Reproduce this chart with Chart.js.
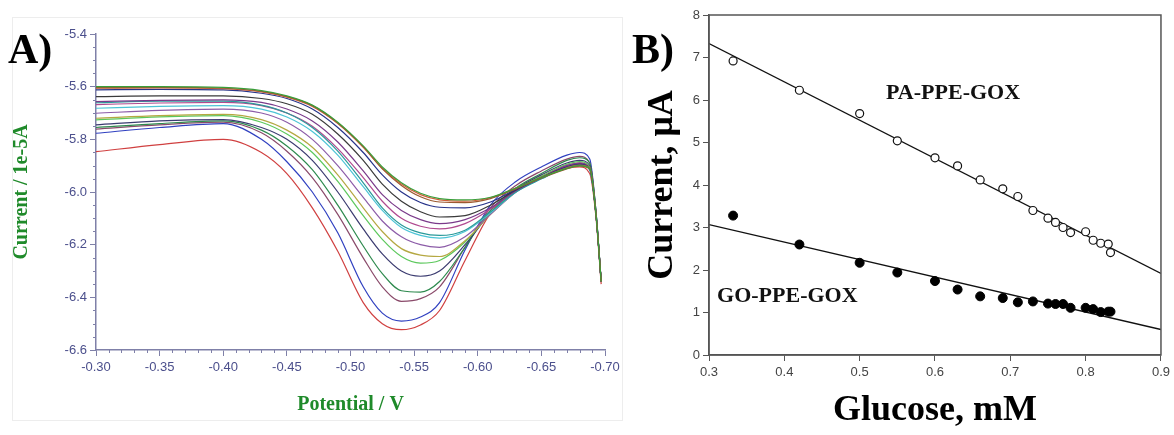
<!DOCTYPE html>
<html>
<head>
<meta charset="utf-8">
<script src="https://cdn.jsdelivr.net/npm/chart.js@4.4.1/dist/chart.umd.min.js"></script>
<style>
body { margin:0; background:#fff; }
#wrap { position:relative; width:1174px; height:435px; overflow:hidden; }
.panel { position:absolute; top:0; height:435px; }
#boxA { position:absolute; left:12px; top:17px; width:609px; height:402px; border:1px solid #ededed; }
.tag { position:absolute; font: bold 42px "Liberation Serif", "Times New Roman", serif; line-height:42px; color:#000; }
</style>
</head>
<body>
<div id="wrap">
  <div id="boxA"></div>
  <div class="panel" style="left:0;width:640px"><canvas id="chartA" width="640" height="435"></canvas></div>
  <div class="panel" style="left:620px;width:554px"><canvas id="chartB" width="554" height="435"></canvas></div>
  <div class="tag" style="left:8px;top:28px">A)</div>
  <div class="tag" style="left:632px;top:28px">B)</div>
</div>
<script>
// ---- panel A : voltammograms (Current / 1e-5A vs Potential / V)
const potential = [-0.30, -0.35, -0.40, -0.43, -0.45, -0.47, -0.49, -0.51, -0.525, -0.54, -0.555,
  -0.57, -0.59, -0.61, -0.63, -0.65, -0.67, -0.68, -0.688, -0.693, -0.697];

const scans = [
  [-5.600, -5.600, -5.603, -5.615, -5.635, -5.670, -5.735, -5.825, -5.905, -5.965, -6.005, -6.025, -6.030, -6.020, -5.985, -5.945, -5.910, -5.900, -5.910, -6.090, -6.340],
  [-5.604, -5.603, -5.606, -5.618, -5.638, -5.672, -5.738, -5.828, -5.912, -5.975, -6.018, -6.038, -6.040, -6.025, -5.988, -5.948, -5.912, -5.902, -5.912, -6.090, -6.340],
  [-5.606, -5.605, -5.608, -5.620, -5.640, -5.675, -5.740, -5.830, -5.910, -5.970, -6.010, -6.030, -6.035, -6.022, -5.985, -5.945, -5.908, -5.898, -5.908, -6.090, -6.340],
  [-5.612, -5.610, -5.612, -5.625, -5.645, -5.685, -5.755, -5.850, -5.935, -6.000, -6.040, -6.058, -6.060, -6.038, -5.990, -5.945, -5.905, -5.895, -5.908, -6.090, -6.340],
  [-5.638, -5.635, -5.635, -5.645, -5.665, -5.705, -5.780, -5.880, -5.970, -6.035, -6.075, -6.095, -6.090, -6.050, -5.992, -5.945, -5.905, -5.895, -5.910, -6.090, -6.340],
  [-5.657, -5.652, -5.650, -5.660, -5.685, -5.730, -5.810, -5.920, -6.010, -6.070, -6.105, -6.120, -6.105, -6.060, -5.995, -5.945, -5.900, -5.890, -5.910, -6.090, -6.340],
  [-5.661, -5.655, -5.655, -5.670, -5.700, -5.755, -5.845, -5.965, -6.060, -6.125, -6.155, -6.165, -6.145, -6.075, -6.000, -5.950, -5.905, -5.895, -5.915, -6.090, -6.340],
  [-5.668, -5.662, -5.660, -5.672, -5.700, -5.750, -5.835, -5.945, -6.035, -6.100, -6.130, -6.140, -6.120, -6.065, -5.995, -5.945, -5.900, -5.890, -5.910, -6.090, -6.340],
  [-5.682, -5.675, -5.672, -5.685, -5.715, -5.770, -5.860, -5.980, -6.070, -6.135, -6.165, -6.175, -6.150, -6.080, -6.000, -5.950, -5.905, -5.895, -5.915, -6.090, -6.340],
  [-5.701, -5.690, -5.685, -5.700, -5.735, -5.800, -5.900, -6.020, -6.110, -6.170, -6.200, -6.210, -6.170, -6.085, -6.000, -5.945, -5.905, -5.895, -5.915, -6.090, -6.340],
  [-5.720, -5.710, -5.705, -5.725, -5.765, -5.830, -5.935, -6.060, -6.150, -6.215, -6.240, -6.245, -6.185, -6.085, -6.000, -5.945, -5.900, -5.890, -5.910, -6.090, -6.340],
  [-5.726, -5.715, -5.710, -5.735, -5.780, -5.850, -5.960, -6.090, -6.180, -6.245, -6.270, -6.260, -6.190, -6.080, -5.995, -5.940, -5.895, -5.885, -5.905, -6.085, -6.340],
  [-5.745, -5.730, -5.725, -5.755, -5.800, -5.880, -6.000, -6.140, -6.235, -6.300, -6.320, -6.300, -6.200, -6.080, -5.990, -5.935, -5.890, -5.880, -5.900, -6.085, -6.340],
  [-5.755, -5.740, -5.730, -5.765, -5.825, -5.915, -6.050, -6.205, -6.310, -6.375, -6.380, -6.340, -6.210, -6.070, -5.985, -5.930, -5.880, -5.870, -5.890, -6.080, -6.340],
  [-5.761, -5.745, -5.735, -5.775, -5.845, -5.945, -6.085, -6.250, -6.360, -6.415, -6.405, -6.360, -6.210, -6.060, -5.975, -5.920, -5.875, -5.865, -5.890, -6.080, -6.340],
  [-5.777, -5.755, -5.740, -5.800, -5.885, -6.000, -6.155, -6.360, -6.460, -6.490, -6.475, -6.420, -6.220, -6.050, -5.960, -5.905, -5.860, -5.850, -5.875, -6.080, -6.340],
  [-5.847, -5.820, -5.800, -5.850, -5.930, -6.060, -6.225, -6.420, -6.500, -6.523, -6.505, -6.450, -6.260, -6.080, -5.990, -5.940, -5.910, -5.905, -5.930, -6.100, -6.350]
];

const scanColors = ['#3a9e3a', '#9c5a30', '#d0603a', '#28348a', '#3a3a3a', '#7a3a8a', '#2a9a9a', '#b04a90',
  '#4cc4d6', '#8c5ca8', '#b5a842', '#5cc85c', '#3b3b70', '#2e8a4e', '#8a4a6a', '#3040c0', '#d04040'];

// ---- panel B : calibration
const glucose = [0.332, 0.42, 0.50, 0.55, 0.60, 0.63, 0.66, 0.69, 0.71, 0.73, 0.75, 0.76, 0.77, 0.78, 0.80, 0.81, 0.82, 0.83, 0.833];
const currentPA = [6.92, 6.23, 5.68, 5.04, 4.64, 4.45, 4.12, 3.91, 3.73, 3.40, 3.22, 3.12, 3.00, 2.88, 2.90, 2.70, 2.63, 2.61, 2.41];
const currentGO = [3.28, 2.60, 2.17, 1.94, 1.74, 1.54, 1.38, 1.34, 1.24, 1.26, 1.21, 1.20, 1.20, 1.11, 1.11, 1.08, 1.01, 1.02, 1.02];
const fitX = [0.3, 0.9];
const fitPA = [7.33, 1.92];
const fitGO = [3.07, 0.60];
const seriesNames = ['PA-PPE-GOX', 'GO-PPE-GOX'];
const namePos = [[0.624, 6.16], [0.404, 1.39]];

const axisBlue = '#7f80a8';

const minorTicks = {
  id: 'minorTicks',
  afterDraw(chart) {
    const {ctx, chartArea} = chart;
    const x = chart.scales.x, y = chart.scales.y;
    ctx.save();
    ctx.strokeStyle = axisBlue;
    ctx.lineWidth = 1;
    ctx.beginPath();
    for (let i = 0; i <= 40; i++) {
      if (i % 5 == 0) continue;
      const px = Math.round(x.getPixelForValue(-0.70 + i * 0.01)) + 0.5;
      ctx.moveTo(px, chartArea.bottom);
      ctx.lineTo(px, chartArea.bottom + 3);
    }
    for (let i = 0; i <= 24; i++) {
      if (i % 4 == 0) continue;
      const py = Math.round(y.getPixelForValue(-6.6 + i * 0.05)) + 0.5;
      ctx.moveTo(chartArea.left - 3, py);
      ctx.lineTo(chartArea.left, py);
    }
    ctx.stroke();
    ctx.restore();
  }
};

new Chart(document.getElementById('chartA'), {
  type: 'line',
  data: {
    datasets: scans.map((s, i) => ({
      data: potential.map((p, j) => ({x: p, y: s[j]})),
      borderColor: scanColors[i],
      borderWidth: 1.2,
      pointRadius: 0,
      fill: false,
      cubicInterpolationMode: 'monotone'
    }))
  },
  options: {
    responsive: false,
    animation: false,
    layout: {padding: {top: 34, right: 35, left: 0, bottom: 0}},
    plugins: {legend: {display: false}, tooltip: {enabled: false}},
    scales: {
      x: {
        type: 'linear', reverse: true, min: -0.70, max: -0.30,
        ticks: {stepSize: 0.05, autoSkip: false, maxRotation: 0, color: '#4b4f8c', padding: 4,
          font: {family: 'Liberation Sans', size: 13}, callback: v => v.toFixed(2)},
        grid: {drawOnChartArea: false, tickLength: 6, color: axisBlue},
        border: {color: axisBlue, width: 1.5},
        title: {display: true, text: 'Potential / V', color: '#1f8a2a', padding: {bottom: 18},
          font: {family: 'Liberation Serif', size: 20, weight: 'bold'}},
        afterFit: s => { s.height = 85; }
      },
      y: {
        min: -6.6, max: -5.4,
        ticks: {stepSize: 0.2, color: '#4b4f8c', padding: 3,
          font: {family: 'Liberation Sans', size: 13}, callback: v => v.toFixed(1)},
        grid: {drawOnChartArea: false, tickLength: 6, color: axisBlue},
        border: {color: axisBlue, width: 1.5},
        title: {display: true, text: 'Current / 1e-5A', color: '#1f8a2a', padding: {top: 10},
          font: {family: 'Liberation Serif', size: 20, weight: 'bold'}},
        afterFit: s => { s.width = 96; }
      }
    }
  },
  plugins: [minorTicks]
});

const frameAndNames = {
  id: 'frameAndNames',
  afterDatasetsDraw(chart) {
    const {ctx, chartArea} = chart;
    const x = chart.scales.x, y = chart.scales.y;
    ctx.save();
    ctx.strokeStyle = '#555';
    ctx.lineWidth = 1.5;
    ctx.strokeRect(chartArea.left, chartArea.top, chartArea.right - chartArea.left, chartArea.bottom - chartArea.top);
    ctx.font = 'bold 22px "Liberation Serif"';
    ctx.fillStyle = '#111';
    ctx.textAlign = 'center';
    ctx.textBaseline = 'middle';
    seriesNames.forEach((n, i) => {
      ctx.fillText(n, x.getPixelForValue(namePos[i][0]), y.getPixelForValue(namePos[i][1]));
    });
    ctx.restore();
  }
};

new Chart(document.getElementById('chartB'), {
  type: 'line',
  data: {
    datasets: [
      {data: glucose.map((g, i) => ({x: g, y: currentPA[i]})), showLine: false, order: 1,
        pointRadius: 4, pointBackgroundColor: '#fff', pointBorderColor: '#111', pointBorderWidth: 1.2},
      {data: glucose.map((g, i) => ({x: g, y: currentGO[i]})), showLine: false, order: 1,
        pointRadius: 4.5, pointBackgroundColor: '#000', pointBorderColor: '#000', pointBorderWidth: 1},
      {data: fitX.map((g, i) => ({x: g, y: fitPA[i]})), borderColor: '#111', borderWidth: 1.3, pointRadius: 0, order: 2},
      {data: fitX.map((g, i) => ({x: g, y: fitGO[i]})), borderColor: '#111', borderWidth: 1.3, pointRadius: 0, order: 2}
    ]
  },
  options: {
    responsive: false,
    animation: false,
    layout: {padding: {top: 15, right: 10, left: 0, bottom: 0}},
    plugins: {legend: {display: false}, tooltip: {enabled: false}},
    scales: {
      x: {
        type: 'linear', min: 0.3, max: 0.9,
        ticks: {stepSize: 0.1, autoSkip: false, maxRotation: 0, color: '#444', padding: 4,
          font: {family: 'Liberation Sans', size: 13}, callback: v => v.toFixed(1)},
        grid: {drawOnChartArea: false, tickLength: 6, color: '#555'},
        border: {color: '#555', width: 1.5},
        title: {display: true, text: 'Glucose, mM', color: '#000', padding: {bottom: 3},
          font: {family: 'Liberation Serif', size: 36, weight: 'bold'}},
        afterFit: s => { s.height = 80; }
      },
      y: {
        min: 0, max: 8,
        ticks: {stepSize: 1, color: '#444', padding: 3,
          font: {family: 'Liberation Sans', size: 13}},
        grid: {drawOnChartArea: false, tickLength: 6, color: '#555'},
        border: {color: '#555', width: 1.5},
        title: {display: true, text: 'Current, μA', color: '#000', padding: {top: 21},
          font: {family: 'Liberation Serif', size: 36, weight: 'bold'}},
        afterFit: s => { s.width = 89; }
      }
    }
  },
  plugins: [frameAndNames]
});
</script>
</body>
</html>
